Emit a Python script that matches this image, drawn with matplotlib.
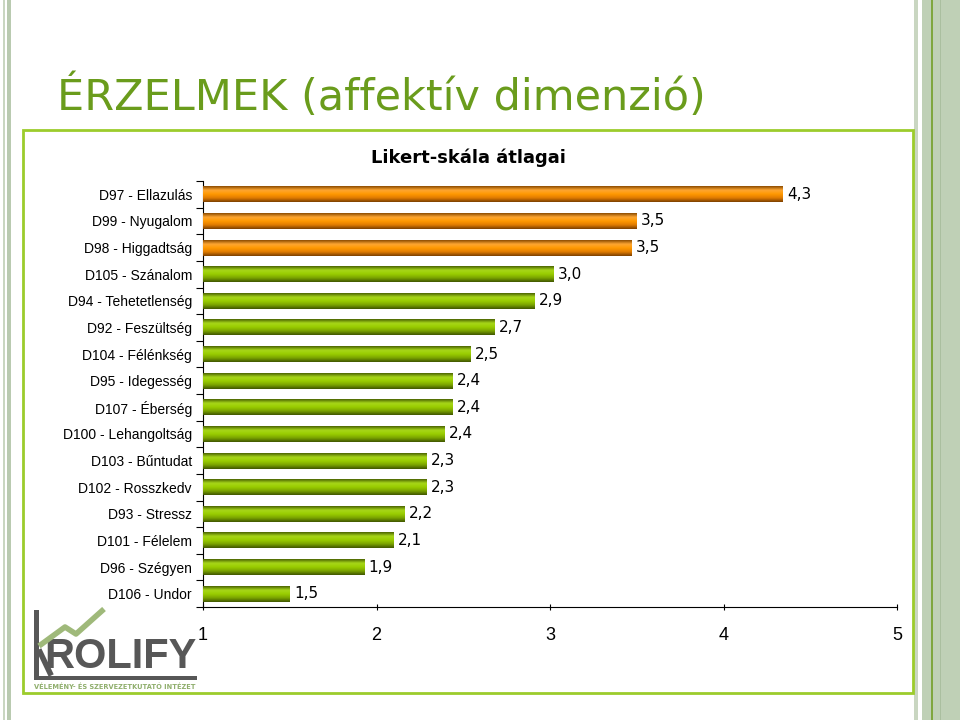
import numpy as np
import matplotlib
matplotlib.use("Agg")
import matplotlib.pyplot as plt
from matplotlib.patches import Rectangle
from matplotlib.lines import Line2D
from matplotlib.colors import LinearSegmentedColormap

# data (top to bottom)
labels = [
    "D97 - Ellazulás", "D99 - Nyugalom", "D98 - Higgadtság", "D105 - Szánalom",
    "D94 - Tehetetlenség", "D92 - Feszültség", "D104 - Félénkség", "D95 - Idegesség",
    "D107 - Éberség", "D100 - Lehangoltság", "D103 - Bűntudat", "D102 - Rosszkedv",
    "D93 - Stressz", "D101 - Félelem", "D96 - Szégyen", "D106 - Undor",
]
values = [4.34, 3.50, 3.47, 3.02, 2.91, 2.68, 2.54, 2.44,
          2.44, 2.39, 2.29, 2.29, 2.16, 2.10, 1.93, 1.50]
value_text = ["4,3", "3,5", "3,5", "3,0", "2,9", "2,7", "2,5", "2,4",
              "2,4", "2,4", "2,3", "2,3", "2,2", "2,1", "1,9", "1,5"]
highlight = [True, True, True] + [False] * 13
x_ticks = [1, 2, 3, 4, 5]

W, H = 960, 720
fig = plt.figure(figsize=(W / 100, H / 100), dpi=100)


def fx(x):
    return x / W


def fy(y):
    return 1 - y / H


def rect_px(x0, y0, x1, y1, color, z=0):
    fig.add_artist(Rectangle((fx(x0), fy(y1)), fx(x1) - fx(x0), fy(y0) - fy(y1),
                             transform=fig.transFigure, facecolor=color,
                             edgecolor="none", zorder=z))


# side stripes
rect_px(3, 0, 5, 720, "#c9d6c1")
rect_px(7, 0, 11, 720, "#b9cab0")
rect_px(914, 0, 918, 720, "#c9d6c1")
rect_px(922, 0, 960, 720, "#bfd0b6")
rect_px(931, 0, 933, 720, "#7fa63f")
rect_px(940, 0, 941, 720, "#aabf9f")

# slide title
fig.text(fx(57), fy(97), "ÉRZELMEK (affektív dimenzió)", fontsize=31,
         color="#6a9c1c", va="center", ha="left", family="DejaVu Sans")

# chart frame
fig.add_artist(Rectangle((fx(23), fy(693)), fx(913) - fx(23), fy(130) - fy(693),
                         transform=fig.transFigure, facecolor="none",
                         edgecolor="#9ccc2c", linewidth=2, zorder=1))

fig.text(fx(468), fy(158), "Likert-skála átlagai", fontsize=13, fontweight="bold",
         ha="center", va="center", family="DejaVu Sans")

ax = fig.add_axes([fx(203), fy(607), fx(897) - fx(203), fy(181) - fy(607)])
y = np.arange(len(labels))
colors = ["#ff9900" if h else "#99cc00" for h in highlight]
bars = ax.barh(y, np.array(values) - 1, left=1, height=0.6, color=colors, zorder=2)

cm_orange = LinearSegmentedColormap.from_list(
    "o", ["#8a4a00", "#ffa733", "#ff9900", "#e07b00", "#7a3f00"])
cm_green = LinearSegmentedColormap.from_list(
    "g", ["#4a6200", "#a8d81a", "#99cc00", "#7aa300", "#3f5500"])
grad = np.linspace(0, 1, 64).reshape(-1, 1)
for b, h in zip(bars, highlight):
    x0, y0, w, hh = b.get_x(), b.get_y(), b.get_width(), b.get_height()
    ax.imshow(grad, cmap=cm_orange if h else cm_green, aspect="auto",
              extent=[x0, x0 + w, y0 + hh, y0], zorder=3, interpolation="bicubic")

for yi, v, t in zip(y, values, value_text):
    ax.text(v + 0.025, yi, t, va="center", ha="left", fontsize=11,
            family="DejaVu Sans", zorder=4)

ax.set_xlim(1, 5)
ax.set_ylim(len(labels) - 0.5, -0.5)
ax.set_xticks(x_ticks)
ax.set_xticklabels([str(t) for t in x_ticks], fontsize=13, family="Liberation Sans")
ax.tick_params(axis="x", direction="inout", length=5, pad=12, width=0.8)
ax.set_yticks(y)
ax.set_yticklabels(labels, fontsize=10, family="Liberation Sans")
ax.set_yticks(np.arange(len(labels) + 1) - 0.5, minor=True)
ax.tick_params(axis="y", which="major", length=0, pad=8)
ax.tick_params(axis="y", which="minor", length=5, width=0.8)
for s in ["top", "right"]:
    ax.spines[s].set_visible(False)
for s in ["left", "bottom"]:
    ax.spines[s].set_linewidth(0.8)
ax.patch.set_alpha(0)

# logo
grey = "#575757"
rect_px(34, 610, 39, 680, grey, 5)
rect_px(34, 676, 197, 680, grey, 5)
fig.add_artist(Line2D([fx(40), fx(50)], [fy(652), fy(673)], color=grey,
                      linewidth=4, transform=fig.transFigure, zorder=5))
fig.add_artist(Line2D([fx(39), fx(65), fx(76), fx(104)],
                      [fy(646), fy(627), fy(634), fy(609)], color="#9fb97a",
                      linewidth=4, transform=fig.transFigure, zorder=6,
                      solid_capstyle="butt"))
fig.text(fx(44), fy(657), "ROLIFY", fontsize=30, fontweight="bold", color=grey,
         va="center", ha="left", family="Liberation Sans", zorder=5)
fig.text(fx(34), fy(687), "VÉLEMÉNY- ÉS SZERVEZETKUTATÓ INTÉZET", fontsize=4.8,
         fontweight="bold", color="#8fae6c", va="center", ha="left",
         family="DejaVu Sans", zorder=5)

fig.savefig("out.png", dpi=100)
